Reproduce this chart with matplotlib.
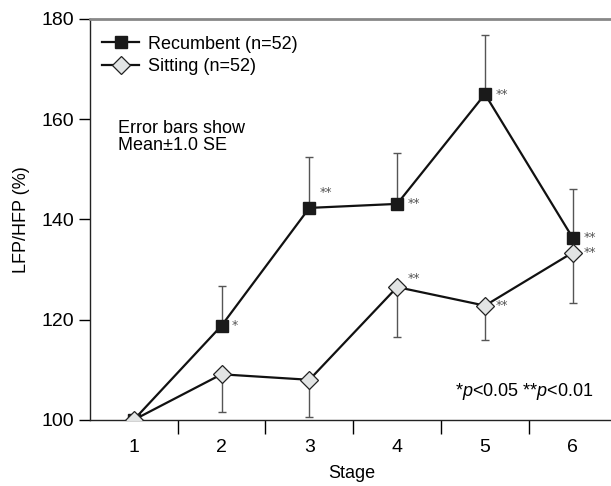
import matplotlib
matplotlib.use("Agg")
import matplotlib.pyplot as plt

plt.rcParams['font.family'] = ['Liberation Sans', 'DejaVu Sans']
plt.rcParams['mathtext.fontset'] = 'custom'
plt.rcParams['mathtext.rm'] = 'Liberation Sans'
plt.rcParams['mathtext.it'] = 'Liberation Sans:italic'

stages = [1, 2, 3, 4, 5, 6]
recumbent = [100, 118.8, 142.3, 143.1, 165.0, 136.3]
recumbent_se = [0, 7.9, 10.2, 10.1, 11.8, 9.7]
sitting = [100, 109.1, 108.0, 126.5, 122.8, 133.4]
sitting_se = [0, 7.5, 7.5, 9.9, 6.8, 10.1]
rec_stars = ['', '*', '**', '**', '**', '**']
sit_stars = ['', '', '', '**', '**', '**']

fig = plt.figure(figsize=(6.11, 4.86), dpi=100)
ax = fig.add_axes([0.147, 0.136, 0.858, 0.825])

ax.errorbar(stages, recumbent, yerr=[[0] * 6, recumbent_se], fmt='none',
            ecolor='#555555', elinewidth=1.0, capsize=2.8, capthick=1.0, zorder=1)
ax.errorbar(stages, sitting, yerr=[sitting_se, [0] * 6], fmt='none',
            ecolor='#555555', elinewidth=1.0, capsize=2.8, capthick=1.0, zorder=1)
ax.plot(stages, recumbent, color='#111111', lw=1.6, marker='s', ms=8,
        mfc='#1a1a1a', mec='#1a1a1a', label='Recumbent (n=52)', zorder=3)
ax.plot(stages, sitting, color='#111111', lw=1.6, marker='D', ms=9.5,
        mfc='#e2e4e4', mec='#222222', mew=0.9, label='Sitting (n=52)', zorder=3)

for x, y, s in zip(stages, recumbent, rec_stars):
    if not s:
        continue
    dy = 3 if x == 3 else 0
    ax.text(x + 0.12, y + dy, s, fontsize=9, color='#555555', va='center', ha='left',
            family='DejaVu Sans')
for x, y, s in zip(stages, sitting, sit_stars):
    if not s:
        continue
    dy = 1.8 if x == 4 else 0
    ax.text(x + 0.12, y + dy, s, fontsize=9, color='#555555', va='center', ha='left',
            family='DejaVu Sans')

ax.text(0.82, 156.5, 'Error bars show\nMean\u00b11.0 SE', fontsize=13, va='center',
        ha='left', linespacing=1.0)
ax.text(6.23, 105.6, r'*$\mathit{p}$<0.05 **$\mathit{p}$<0.01', fontsize=13, ha='right',
        va='center')

leg = ax.legend(loc='upper left', bbox_to_anchor=(0.0, 0.99), frameon=False,
                fontsize=13, handlelength=2.0, handletextpad=0.5, labelspacing=0.3,
                borderaxespad=0.3)

ax.set_xlim(0.5, 6.47)
ax.set_ylim(100, 180)
ax.set_yticks([100, 120, 140, 160, 180])
ax.set_xticks([1.5, 2.5, 3.5, 4.5, 5.5])
ax.set_xticklabels([])
ax.set_xticks(stages, minor=True)
ax.set_xticklabels([str(s) for s in stages], minor=True)
ax.tick_params(axis='x', which='major', length=10, width=1.0, direction='out')
ax.tick_params(axis='x', which='minor', length=0, pad=14, labelsize=14)
ax.tick_params(axis='y', length=8, width=1.0, labelsize=14)

ax.spines['right'].set_visible(False)
ax.spines['top'].set_color('#888888')
ax.spines['top'].set_linewidth(2.0)
for sp in ['left', 'bottom']:
    ax.spines[sp].set_linewidth(1.0)
    ax.spines[sp].set_color('#222222')

ax.set_xlabel('Stage', fontsize=13, labelpad=6)
ax.set_ylabel('LFP/HFP (%)', fontsize=13, labelpad=8)

fig.savefig('out.png', dpi=100)
